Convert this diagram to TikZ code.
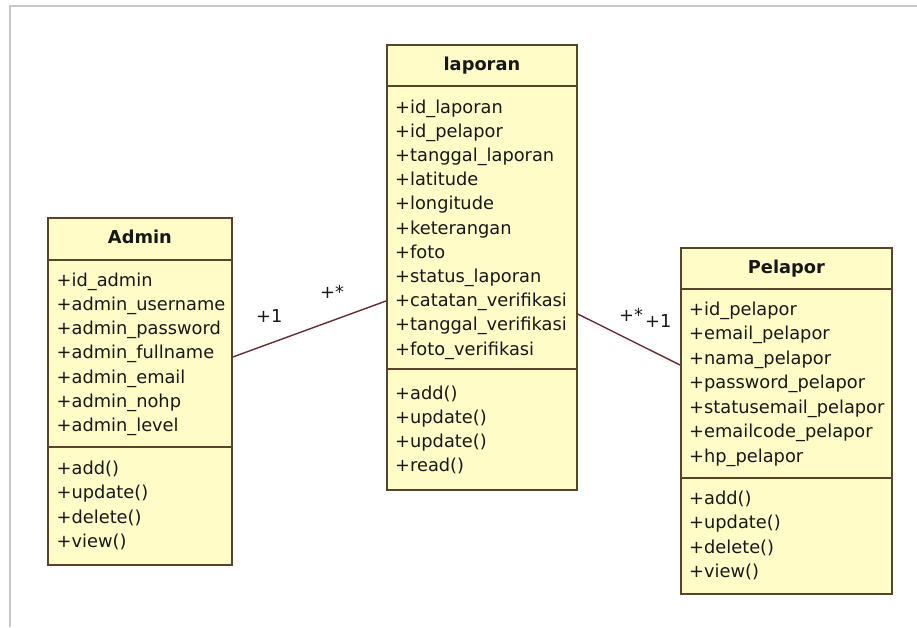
\documentclass[tikz,border=0pt]{standalone}
\usepackage{fontspec}
\setmainfont{DejaVu Sans}
\usetikzlibrary{calc}
\definecolor{classfill}{RGB}{255,252,200}
\definecolor{classline}{RGB}{88,68,40}
\definecolor{assocline}{RGB}{100,45,50}
\definecolor{framegray}{RGB}{200,200,200}
\definecolor{inktext}{RGB}{24,24,24}

\begin{document}
\begin{tikzpicture}[x=1pt,y=-1pt,
  classbox/.style={draw=classline, line width=1.8pt, fill=classfill, inner sep=0pt, anchor=north west},
  compsep/.style={draw=classline, line width=1.8pt},
  member/.style={anchor=base west, inner sep=0pt, font=\fontsize{17.8}{20}\selectfont, text=inktext},
  classname/.style={anchor=base, inner sep=0pt, font=\fontsize{17.8}{20}\selectfont\bfseries, text=inktext},
  mult/.style={anchor=base west, inner sep=0pt, font=\fontsize{17.8}{20}\selectfont, text=inktext},
  assoc/.style={draw=assocline, line width=1.4pt}]

\useasboundingbox (0,0) rectangle (917,627);
\fill[white] (0,0) rectangle (917,627);
\draw[framegray, line width=1.5pt] (917,6) -- (10,6) -- (10,627);

% ---------- Admin ----------
\node[classbox, minimum width=184pt, minimum height=347pt] (admin) at (47,217) {};
\draw[compsep] ($(admin.north west)+(0,43)$) -- ($(admin.north east)+(0,43)$);
\draw[compsep] ($(admin.north west)+(0,230)$) -- ($(admin.north east)+(0,230)$);
\node[classname] (admin-title) at ($(admin.north)+(0,26)$) {Admin};
\foreach \t [count=\i from 0] in {+id\_admin,+admin\_username,+admin\_password,+admin\_fullname,+admin\_email,+admin\_nohp,+admin\_level}
  \node[member] (admin-a\i) at ($(admin.north west)+(9.5,{69+\i*24.3})$) {\t};
\foreach \t [count=\i from 0] in {+add(),+update(),+delete(),+view()}
  \node[member] (admin-m\i) at ($(admin.north west)+(9.5,{257+\i*24.6})$) {\t};

% ---------- laporan ----------
\node[classbox, minimum width=190pt, minimum height=445pt] (lap) at (386,44) {};
\draw[compsep] ($(lap.north west)+(0,42)$) -- ($(lap.north east)+(0,42)$);
\draw[compsep] ($(lap.north west)+(0,325)$) -- ($(lap.north east)+(0,325)$);
\node[classname] (lap-title) at ($(lap.north)+(0,26.5)$) {laporan};
\foreach \t [count=\i from 0] in {+id\_laporan,+id\_pelapor,+tanggal\_laporan,+latitude,+longitude,+keterangan,+foto,+status\_laporan,+catatan\_verifikasi,+tanggal\_verifikasi,+foto\_verifikasi}
  \node[member] (lap-a\i) at ($(lap.north west)+(9,{69+\i*24.2})$) {\t};
\foreach \t [count=\i from 0] in {+add(),+update(),+update(),+read()}
  \node[member] (lap-m\i) at ($(lap.north west)+(9,{355+\i*24.3})$) {\t};

% ---------- Pelapor ----------
\node[classbox, minimum width=211pt, minimum height=346pt] (pel) at (680,247) {};
\draw[compsep] ($(pel.north west)+(0,42)$) -- ($(pel.north east)+(0,42)$);
\draw[compsep] ($(pel.north west)+(0,231)$) -- ($(pel.north east)+(0,231)$);
\node[classname] (pel-title) at ($(pel.north)+(0,26)$) {Pelapor};
\foreach \t [count=\i from 0] in {+id\_pelapor,+email\_pelapor,+nama\_pelapor,+password\_pelapor,+statusemail\_pelapor,+emailcode\_pelapor,+hp\_pelapor}
  \node[member] (pel-a\i) at ($(pel.north west)+(9,{68+\i*24.5})$) {\t};
\foreach \t [count=\i from 0] in {+add(),+update(),+delete(),+view()}
  \node[member] (pel-m\i) at ($(pel.north west)+(9,{257+\i*24.6})$) {\t};

% ---------- associations ----------
\coordinate (admin-end) at ($(admin.north east)+(0,140)$);
\coordinate (lap-wend)  at ($(lap.north west)+(0,257)$);
\coordinate (lap-eend)  at ($(lap.north east)+(0,270)$);
\coordinate (pel-end)   at ($(pel.north west)+(0,118)$);
\draw[assoc] (admin-end) -- (lap-wend);
\draw[assoc] (lap-eend) -- (pel-end);

\node[mult] (m-admin)   at (256,322) {+1};
\node[mult] (m-lapl)    at (320,298) {+*};
\node[mult] (m-lapr)    at (619,321) {+*};
\node[mult] (m-pel)     at (645,327) {+1};
\end{tikzpicture}
\end{document}
